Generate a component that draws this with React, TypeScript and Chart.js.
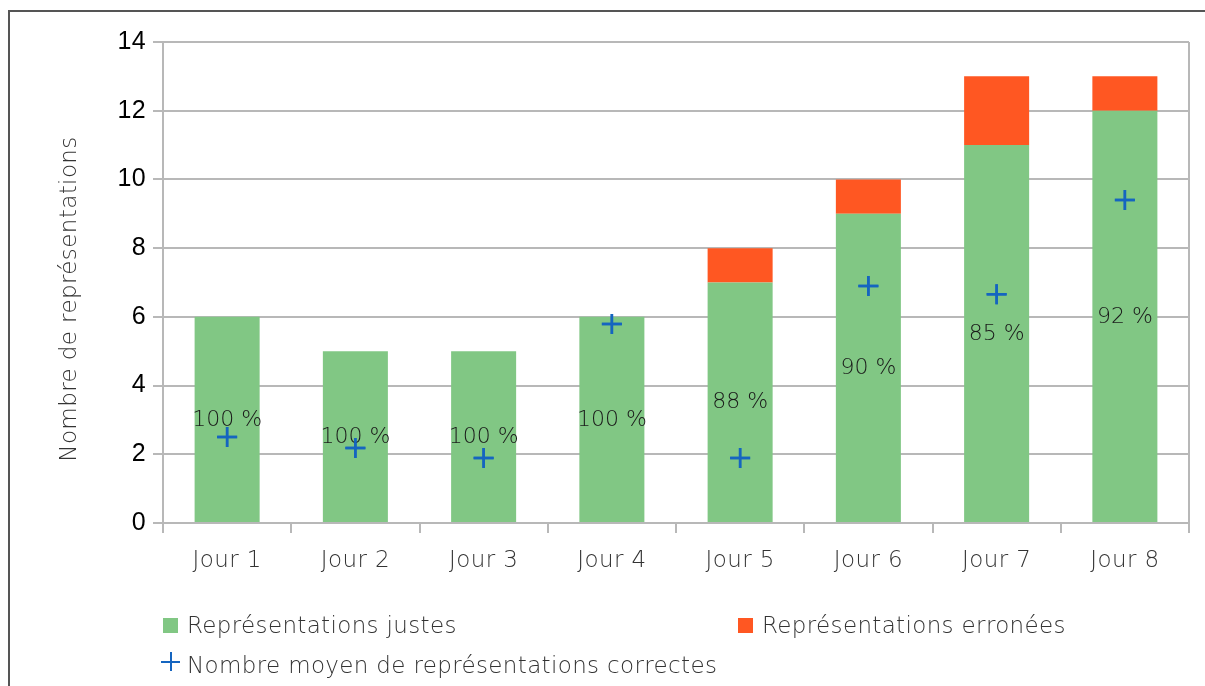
import React, { useEffect, useRef } from "react";
import { Chart, registerables } from "chart.js";

Chart.register(...registerables);

const categories = ["Jour 1", "Jour 2", "Jour 3", "Jour 4", "Jour 5", "Jour 6", "Jour 7", "Jour 8"];
const justes = [6, 5, 5, 6, 7, 9, 11, 12];
const erronees = [0, 0, 0, 0, 1, 1, 2, 1];
const moyenne = [2.5, 2.18, 1.89, 5.79, 1.89, 6.9, 6.66, 9.4];
const yTicks = [0, 2, 4, 6, 8, 10, 12, 14];

const GREEN = "#81c784";
const RED = "#ff5722";
const BLUE = "#1565c0";
const LABEL_FONT = "'DejaVu Sans', sans-serif";

export default function App() {
  const ref = useRef<HTMLCanvasElement | null>(null);

  useEffect(() => {
    const canvas = ref.current;
    if (!canvas) return;

    const extras = {
      id: "extras",
      beforeDraw(chart: any) {
        chart.ctx.letterSpacing = "0.4px";
      },
      afterDatasetsDraw(chart: any) {
        const ctx = chart.ctx;
        const meta = chart.getDatasetMeta(0);
        const ys = chart.scales.y;
        ctx.save();
        ctx.letterSpacing = "0px";
        ctx.font = `200 22px ${LABEL_FONT}`;
        ctx.fillStyle = "#1a1a1a";
        ctx.textAlign = "center";
        ctx.textBaseline = "middle";
        meta.data.forEach((el: any, i: number) => {
          const total = justes[i] + erronees[i];
          const pct = Math.round((justes[i] / total) * 100);
          ctx.fillText(`${pct} %`, el.x, ys.getPixelForValue(justes[i] / 2));
        });
        ctx.restore();
        const lm = chart.getDatasetMeta(2);
        lm.data.forEach((pt: any) => pt.draw(ctx, chart.chartArea));
      },
      afterDraw(chart: any) {
        const ctx = chart.ctx;
        const a = chart.chartArea;
        ctx.save();
        ctx.strokeStyle = "#b8b8b8";
        ctx.lineWidth = 2;
        ctx.beginPath();
        ctx.moveTo(a.right, a.top);
        ctx.lineTo(a.right, a.bottom);
        ctx.stroke();
        ctx.translate(70, 299);
        ctx.rotate(-Math.PI / 2);
        ctx.letterSpacing = "0.4px";
        ctx.font = `200 23px ${LABEL_FONT}`;
        ctx.fillStyle = "#333333";
        ctx.textAlign = "center";
        ctx.textBaseline = "middle";
        ctx.fillText("Nombre de représentations", 0, 0);
        ctx.restore();
      },
    };

    const chart = new Chart(canvas, {
      data: {
        labels: categories,
        datasets: [
          {
            type: "bar",
            label: "Représentations justes",
            data: justes,
            backgroundColor: GREEN,
            stack: "bars",
            barPercentage: 0.507,
            categoryPercentage: 1,
            order: 2,
          },
          {
            type: "bar",
            label: "Représentations erronées",
            data: erronees,
            backgroundColor: RED,
            stack: "bars",
            barPercentage: 0.507,
            categoryPercentage: 1,
            order: 2,
          },
          {
            type: "line",
            label: "Nombre moyen de représentations correctes",
            data: moyenne,
            showLine: false,
            stack: "points",
            pointStyle: "cross",
            pointRadius: 10,
            pointBorderWidth: 2.5,
            borderColor: BLUE,
            backgroundColor: BLUE,
            order: 1,
          },
        ],
      },
      options: {
        responsive: false,
        animation: false,
        devicePixelRatio: 1,
        layout: { padding: { left: 0, top: 42, right: 16, bottom: 0 } },
        plugins: { legend: { display: false }, tooltip: { enabled: false }, title: { display: false } },
        scales: {
          x: {
            stacked: true,
            afterFit: (s: any) => {
              s.height = 163;
            },
            grid: {
              offset: true,
              drawOnChartArea: false,
              drawTicks: true,
              tickLength: 10,
              color: "#b8b8b8",
              lineWidth: 2,
            },
            border: { color: "#b8b8b8", width: 2 },
            ticks: {
              color: "#333333",
              font: { family: LABEL_FONT, size: 23, weight: "200" },
              padding: 14,
            },
          },
          y: {
            stacked: true,
            min: 0,
            max: 14,
            afterFit: (s: any) => {
              s.width = 163;
            },
            afterBuildTicks: (s: any) => {
              s.ticks = yTicks.map((v) => ({ value: v }));
            },
            grid: { color: "#b8b8b8", lineWidth: 2, tickLength: 10 },
            border: { color: "#b8b8b8", width: 2 },
            ticks: {
              color: "#000000",
              font: { family: "'Liberation Sans', Arial, sans-serif", size: 25 },
              padding: 7,
            },
          },
        },
      },
      plugins: [extras],
    } as any);

    return () => chart.destroy();
  }, []);

  const legendText: React.CSSProperties = {
    position: "absolute",
    fontFamily: LABEL_FONT,
    fontWeight: 200,
    fontSize: 23,
    letterSpacing: "0.35px",
    color: "#333333",
    lineHeight: "30px",
    whiteSpace: "nowrap",
  };

  return (
    <div style={{ position: "fixed", left: 0, top: 0, width: 1205, height: 686, overflow: "hidden", background: "#fff" }}>
      <div
        style={{
          position: "absolute",
          left: 8,
          top: 10,
          width: 1300,
          height: 800,
          border: "2px solid #555555",
          boxSizing: "border-box",
        }}
      />
      <canvas ref={ref} width={1205} height={686} style={{ position: "absolute", left: 0, top: 0 }} />
      <div style={{ position: "absolute", left: 163, top: 618, width: 15, height: 15, background: GREEN }} />
      <div style={{ ...legendText, left: 187, top: 610 }}>Représentations justes</div>
      <div style={{ position: "absolute", left: 738, top: 618, width: 15, height: 15, background: RED }} />
      <div style={{ ...legendText, left: 762, top: 610 }}>Représentations erronées</div>
      <div style={{ position: "absolute", left: 161, top: 652, width: 19, height: 19 }}>
        <div style={{ position: "absolute", left: 0, top: 8.5, width: 19, height: 2.5, background: BLUE }} />
        <div style={{ position: "absolute", left: 8.5, top: 0, width: 2.5, height: 19, background: BLUE }} />
      </div>
      <div style={{ ...legendText, left: 187, top: 650 }}>Nombre moyen de représentations correctes</div>
    </div>
  );
}
